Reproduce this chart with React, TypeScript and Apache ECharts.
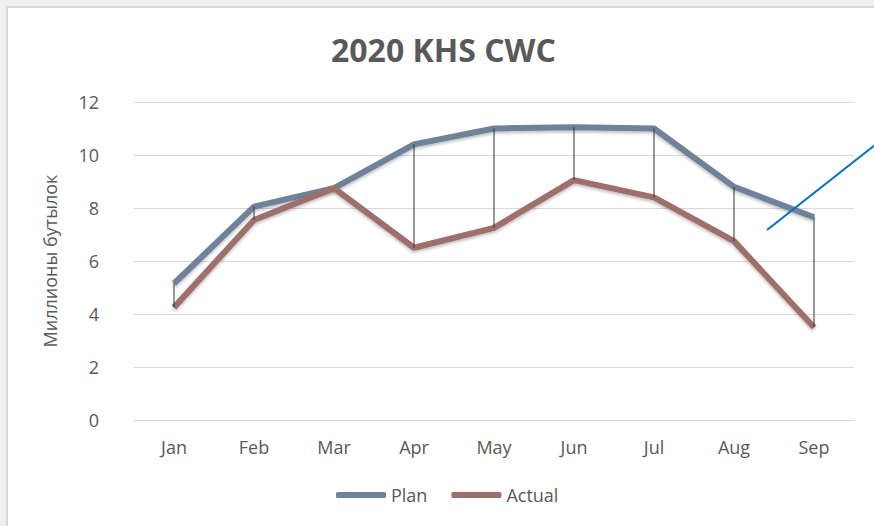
import React, { useEffect, useRef } from "react";
import * as echarts from "echarts";

const months = ["Jan", "Feb", "Mar", "Apr", "May", "Jun", "Jul", "Aug", "Sep"];
const planValues = [5.15, 8.05, 8.75, 10.4, 11.0, 11.05, 11.0, 8.8, 7.65];
const actualValues = [4.25, 7.55, 8.75, 6.5, 7.25, 9.05, 8.4, 6.75, 3.5];
const yTicks = { min: 0, max: 12, interval: 2 };
const titleText = "2020 KHS CWC";
const yAxisName = "Миллионы бутылок";
const seriesNames = ["Plan", "Actual"];

const FONT = "'Open Sans', 'Noto Sans', sans-serif";
const TEXT = "#595959";

export default function App() {
  const ref = useRef<HTMLDivElement>(null);

  useEffect(() => {
    document.body.style.margin = "0";
    document.body.style.background = "#f0f0f0";
    if (!ref.current) return;
    const chart = echarts.init(ref.current, undefined, { renderer: "svg" });
    const dropData = months.map((_, i) => [i, planValues[i], actualValues[i]]);
    chart.setOption({
      animation: false,
      textStyle: { fontFamily: FONT },
      title: {
        text: titleText,
        left: 326,
        top: 28,
        textStyle: { fontFamily: FONT, fontSize: 32, fontWeight: "bold", color: TEXT },
      },
      grid: { left: 134, right: 20, top: 102, bottom: 106, containLabel: false },
      legend: {
        left: 331,
        top: 481,
        itemWidth: 50,
        itemHeight: 6,
        itemGap: 24,
        icon: "roundRect",
        textStyle: { fontFamily: FONT, fontSize: 18, color: TEXT },
        data: seriesNames,
      },
      xAxis: {
        type: "category",
        data: months,
        boundaryGap: true,
        axisLine: { show: true, lineStyle: { color: "#d9d9d9", width: 1 } },
        axisTick: { show: false },
        axisLabel: { color: TEXT, fontSize: 18, fontFamily: FONT, margin: 18 },
      },
      yAxis: {
        type: "value",
        min: yTicks.min,
        max: yTicks.max,
        interval: yTicks.interval,
        name: yAxisName,
        nameLocation: "middle",
        nameRotate: 90,
        nameGap: 75,
        nameTextStyle: { color: TEXT, fontSize: 18, fontFamily: FONT },
        axisLine: { show: false },
        axisTick: { show: false },
        axisLabel: { color: TEXT, fontSize: 18, fontFamily: FONT, margin: 35 },
        splitLine: { lineStyle: { color: "#d9d9d9", width: 1 } },
      },
      series: [
        {
          name: seriesNames[0],
          type: "line",
          data: planValues,
          symbol: "none",
          color: "#6f829a",
          lineStyle: {
            width: 6,
            color: "#6f829a",
            shadowColor: "rgba(0,0,0,0.25)",
            shadowBlur: 3,
            shadowOffsetY: 2,
          },
          z: 2,
        },
        {
          name: seriesNames[1],
          type: "line",
          data: actualValues,
          symbol: "none",
          color: "#9e6f6c",
          lineStyle: {
            width: 6,
            color: "#9e6f6c",
            shadowColor: "rgba(0,0,0,0.25)",
            shadowBlur: 3,
            shadowOffsetY: 2,
          },
          z: 2,
        },
        {
          type: "custom",
          name: "drop",
          data: dropData,
          z: 3,
          silent: true,
          renderItem: (params: any, api: any) => {
            const p1 = api.coord([api.value(0), api.value(1)]);
            const p2 = api.coord([api.value(0), api.value(2)]);
            return {
              type: "line",
              shape: { x1: p1[0], y1: p1[1], x2: p2[0], y2: p2[1] },
              style: { stroke: "#333333", lineWidth: 1 },
            };
          },
        },
      ],
      graphic: [
        {
          type: "line",
          shape: { x1: 767, y1: 230, x2: 880, y2: 141 },
          style: { stroke: "#0070c0", lineWidth: 2 },
          z: 10,
        },
      ],
    });
    return () => chart.dispose();
  }, []);

  return (
    <div style={{ position: "relative", width: 874, height: 526, background: "#f0f0f0", overflow: "hidden" }}>
      <div
        style={{
          position: "absolute",
          left: 6,
          top: 6,
          right: 0,
          bottom: 0,
          background: "#ffffff",
          borderLeft: "2px solid #d9d9d9",
          borderTop: "2px solid #d9d9d9",
        }}
      />
      <div ref={ref} style={{ position: "absolute", left: 0, top: 0, width: 874, height: 526 }} />
    </div>
  );
}
